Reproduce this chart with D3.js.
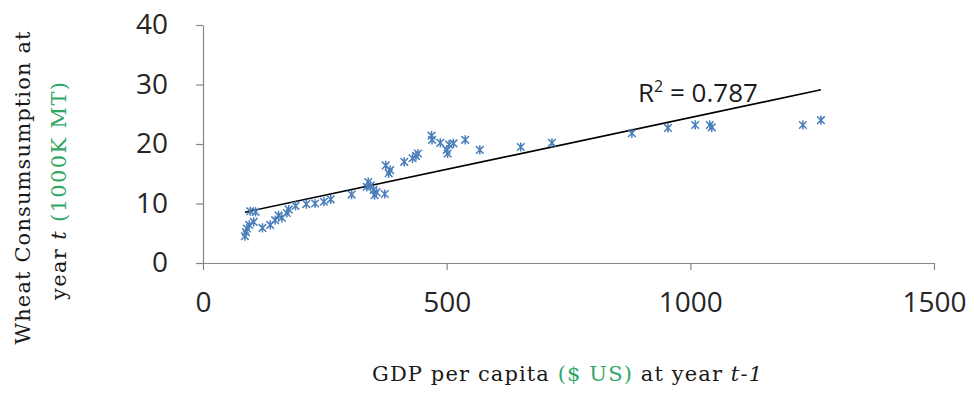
<!DOCTYPE html>
<html>
<head>
<meta charset="utf-8">
<script src="https://cdn.jsdelivr.net/npm/d3@7/dist/d3.min.js"></script>
<style>
  html, body { margin: 0; padding: 0; background: #ffffff; }
  svg { display: block; }
  svg text.serif { font-family: "DejaVu Serif", "Liberation Serif", serif; font-size: 21px; }
</style>
</head>
<body>
<svg id="chart" width="974" height="397"></svg>
<script>
// GDP per capita ($ US) at year t-1
const gdpPerCapita = [
  86, 88, 90, 95, 104, 97, 108, 122, 138, 148,
  155, 162, 172, 176, 190, 212, 230, 248, 262, 305,
  336, 339, 344, 350, 352, 356, 373, 375, 381, 384,
  413, 430, 437, 441, 469, 470, 487, 500, 502, 505,
  514, 538, 568, 652, 716, 880, 954, 1010, 1040, 1044,
  1231, 1268
];
// Wheat consumption at year t (1000K MT)
const wheatConsumption = [
  4.5, 5.2, 5.8, 6.4, 6.9, 8.7, 8.6, 5.9, 6.4, 7.2,
  8.0, 7.6, 8.4, 9.0, 9.6, 9.9, 10.0, 10.3, 10.7, 11.5,
  12.8, 13.6, 13.0, 12.3, 11.4, 11.9, 11.6, 16.4, 15.1, 15.6,
  17.0, 17.6, 18.0, 18.4, 21.4, 20.7, 20.2, 19.0, 18.4, 19.9,
  20.1, 20.7, 19.0, 19.5, 20.2, 21.8, 22.7, 23.2, 23.2, 22.8,
  23.2, 24.0
];

const xTicks = [0, 500, 1000, 1500];
const yTicks = [0, 10, 20, 30, 40];

// Linear trend line fitted to the points
const trendSlope = 0.0174;
const trendIntercept = 7.04;
const rSquared = "0.787";

const svg = d3.select("#chart");

const x = d3.scaleLinear().domain([0, 1500]).range([203, 934]);
const y = d3.scaleLinear().domain([0, 40]).range([263, 25]);

const axisColor = "#868686";
const tickFont = "'Open Sans', 'Liberation Sans', sans-serif";

// Axes
const xAxis = svg.append("g")
  .attr("transform", `translate(0,${y(0)})`)
  .call(d3.axisBottom(x).tickValues(xTicks).tickSize(7).tickSizeOuter(0).tickPadding(22).tickFormat(d3.format("d")));

const yAxis = svg.append("g")
  .attr("transform", `translate(${x(0)},0)`)
  .call(d3.axisLeft(y).tickValues(yTicks).tickSize(7).tickSizeOuter(0).tickPadding(28).tickFormat(d3.format("d")));

[xAxis, yAxis].forEach(g => {
  g.select(".domain").attr("stroke", axisColor).attr("stroke-width", 1.2);
  g.selectAll(".tick line").attr("stroke", axisColor).attr("stroke-width", 1.2);
  g.selectAll(".tick text")
    .attr("fill", "#262626")
    .style("font-family", tickFont)
    .style("font-size", "28px");
});

// Trend line across the range of the data
const xExtent = d3.extent(gdpPerCapita);
const trend = xExtent.map(v => [v, trendIntercept + trendSlope * v]);
svg.append("path")
  .datum(trend)
  .attr("d", d3.line().x(d => x(d[0])).y(d => y(d[1])))
  .attr("fill", "none")
  .attr("stroke", "#000000")
  .attr("stroke-width", 1.6);

// Asterisk markers
const points = gdpPerCapita.map((g, i) => [g, wheatConsumption[i]]);
const s = 3.8;
const star = `M${-s},${-s}L${s},${s}M${-s},${s}L${s},${-s}M0,${-s - 0.8}L0,${s + 0.8}`;
svg.append("g")
  .selectAll("path")
  .data(points)
  .join("path")
  .attr("transform", d => `translate(${x(d[0])},${y(d[1])})`)
  .attr("d", star)
  .attr("fill", "none")
  .attr("stroke", "#4a7ebb")
  .attr("stroke-width", 1.5);

// R² annotation
const rText = svg.append("text")
  .attr("x", 638)
  .attr("y", 102)
  .attr("fill", "#1a1a1a")
  .style("font-family", tickFont)
  .style("font-size", "26px");
rText.append("tspan").text("R");
rText.append("tspan").attr("dy", -10).style("font-size", "16px").text("2");
rText.append("tspan").attr("dy", 10).text(" = " + rSquared);

// Axis titles
const green = "#2fa866";

const xTitle = svg.append("text")
  .attr("class", "serif")
  .attr("x", 372)
  .attr("y", 381)
  .attr("textLength", 390)
  .attr("lengthAdjust", "spacing")
  .attr("fill", "#1a1a1a");
xTitle.append("tspan").text("GDP per capita ");
xTitle.append("tspan").attr("fill", green).text("($ US)");
xTitle.append("tspan").text(" at year ");
xTitle.append("tspan").style("font-style", "italic").text("t-1");

svg.append("text")
  .attr("class", "serif")
  .attr("transform", "translate(30,188) rotate(-90)")
  .attr("text-anchor", "middle")
  .attr("textLength", 313)
  .attr("lengthAdjust", "spacing")
  .attr("fill", "#1a1a1a")
  .text("Wheat Consumsumption at");

const yTitle2 = svg.append("text")
  .attr("class", "serif")
  .attr("transform", "translate(66,191) rotate(-90)")
  .attr("text-anchor", "middle")
  .attr("textLength", 218)
  .attr("lengthAdjust", "spacing")
  .attr("fill", "#1a1a1a");
yTitle2.append("tspan").text("year ");
yTitle2.append("tspan").style("font-style", "italic").text("t");
yTitle2.append("tspan").attr("fill", green).text(" (1000K MT)");
</script>
</body>
</html>
